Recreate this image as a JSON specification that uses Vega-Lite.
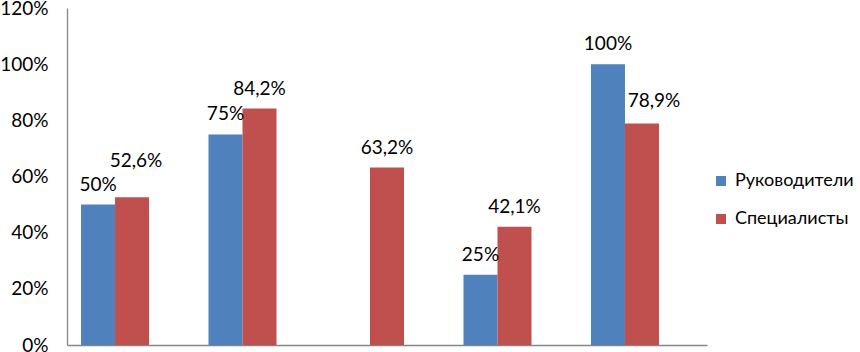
{
  "$schema": "https://vega.github.io/schema/vega-lite/v6.json",
  "width": 640,
  "height": 337,
  "autosize": {"type": "none"},
  "padding": {"left": 67, "top": 8, "right": 153, "bottom": 7},
  "config": {
    "view": {"stroke": null},
    "font": "Lato",
    "locale": {"number": {"decimal": ",", "thousands": "\u00a0", "grouping": [3], "currency": ["", " руб."]}}
  },
  "data": {
    "values": [
      {"cat": "1", "series": "Руководители", "value": 0.5},
      {"cat": "1", "series": "Специалисты", "value": 0.526},
      {"cat": "2", "series": "Руководители", "value": 0.75},
      {"cat": "2", "series": "Специалисты", "value": 0.842},
      {"cat": "3", "series": "Специалисты", "value": 0.632},
      {"cat": "4", "series": "Руководители", "value": 0.25},
      {"cat": "4", "series": "Специалисты", "value": 0.421},
      {"cat": "5", "series": "Руководители", "value": 1.0},
      {"cat": "5", "series": "Специалисты", "value": 0.789}
    ]
  },
  "encoding": {
    "x": {
      "field": "cat",
      "type": "nominal",
      "scale": {"paddingInner": 0.2, "paddingOuter": 0.11},
      "axis": {"labels": false, "ticks": false, "title": null, "domainColor": "#868686", "domainWidth": 1.3}
    },
    "xOffset": {"field": "series", "scale": {"domain": ["Руководители", "Специалисты", "_"]}},
    "y": {
      "field": "value",
      "type": "quantitative",
      "scale": {"domain": [0, 1.2]},
      "axis": {
        "values": [0, 0.2, 0.4, 0.6, 0.8, 1.0, 1.2],
        "format": ".0%",
        "title": null,
        "grid": false,
        "ticks": false,
        "labelFontSize": 19,
        "labelColor": "#000000",
        "labelPadding": 19,
        "domainColor": "#868686",
        "domainWidth": 1.3
      }
    }
  },
  "layer": [
    {
      "mark": {"type": "bar"},
      "encoding": {
        "color": {
          "field": "series",
          "type": "nominal",
          "scale": {"domain": ["Руководители", "Специалисты"], "range": ["#4F81BD", "#C0504D"]},
          "legend": {
            "title": null,
            "orient": "none",
            "legendX": 645,
            "legendY": 164,
            "symbolType": "square",
            "symbolSize": 100,
            "symbolStrokeWidth": 0,
            "symbolOffset": 0,
            "labelFontSize": 18,
            "labelColor": "#000000",
            "labelOffset": 5,
            "rowPadding": 20
          }
        }
      }
    },
    {
      "transform": [{"filter": "!((datum.cat == '1' || datum.cat == '5') && datum.series == 'Специалисты')"}],
      "mark": {"type": "text", "dy": -14, "baseline": "alphabetic", "fontSize": 19, "color": "#000000"},
      "encoding": {"text": {"field": "value", "type": "quantitative", "format": ".1~%"}}
    },
    {
      "transform": [{"filter": "datum.cat == '1' && datum.series == 'Специалисты'"}],
      "mark": {"type": "text", "dy": -30, "dx": 4, "baseline": "alphabetic", "fontSize": 19, "color": "#000000"},
      "encoding": {"text": {"field": "value", "type": "quantitative", "format": ".1~%"}}
    },
    {
      "transform": [{"filter": "datum.cat == '5' && datum.series == 'Специалисты'"}],
      "mark": {"type": "text", "dy": -16, "dx": 12, "baseline": "alphabetic", "fontSize": 19, "color": "#000000"},
      "encoding": {"text": {"field": "value", "type": "quantitative", "format": ".1~%"}}
    }
  ]
}
